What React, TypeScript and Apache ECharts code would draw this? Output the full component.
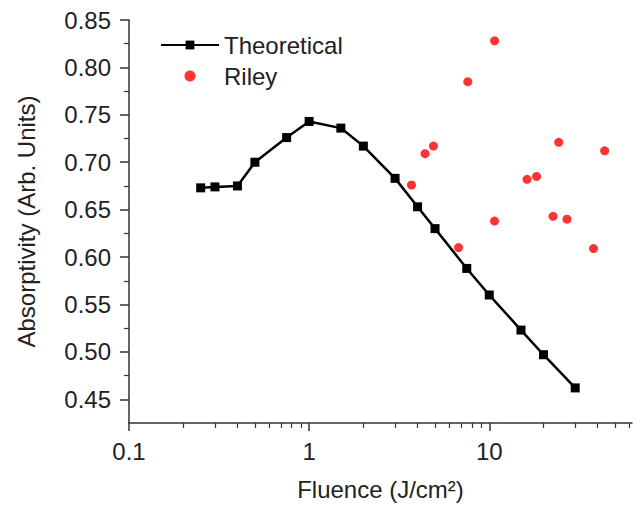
import React, { useEffect, useRef } from "react";
import * as echarts from "echarts";

const theoFluence = [0.25, 0.3, 0.4, 0.5, 0.75, 1, 1.5, 2, 3, 4, 5, 7.5, 10, 15, 20, 30];
const theoAbs = [0.673, 0.674, 0.675, 0.7, 0.726, 0.743, 0.736, 0.717, 0.683, 0.653, 0.63, 0.588, 0.56, 0.523, 0.497, 0.462];

const rileyFluence = [10.7, 7.6, 4.9, 4.4, 3.7, 24.3, 43.7, 16.2, 18.3, 10.7, 22.6, 27.0, 6.75, 37.9];
const rileyAbs = [0.828, 0.785, 0.717, 0.709, 0.676, 0.721, 0.712, 0.682, 0.685, 0.638, 0.643, 0.64, 0.61, 0.609];

const xMajorTicks = [0.1, 1, 10];
const xMinorTicks = [0.2, 0.3, 0.4, 0.5, 0.6, 0.7, 0.8, 0.9, 2, 3, 4, 5, 6, 7, 8, 9, 20, 30, 40, 50, 60];
const yMajorTicks = [0.45, 0.5, 0.55, 0.6, 0.65, 0.7, 0.75, 0.8, 0.85];
const yMinorTicks = [0.475, 0.525, 0.575, 0.625, 0.675, 0.725, 0.775, 0.825];

const FONT = "'Liberation Sans', Arial, sans-serif";
const AXIS_COLOR = "#333";
const TEXT_COLOR = "#222";
const FS = 24;

export default function App() {
  const ref = useRef<HTMLDivElement>(null);
  useEffect(() => {
    if (!ref.current) return;
    document.body.style.margin = "0";
    const chart = echarts.init(ref.current, null, { renderer: "svg" });
    const xMin = 0.1;
    const xMax = 62;
    const yMin = 0.425;
    const yMax = 0.85;
    chart.setOption({
      animation: false,
      backgroundColor: "#fff",
      textStyle: { fontFamily: FONT },
      grid: { left: 129, top: 20, right: 3, bottom: 85, containLabel: false },
      legend: {
        left: 160,
        top: 33,
        orient: "vertical",
        padding: 0,
        itemWidth: 58,
        itemHeight: 11,
        itemGap: 7,
        textStyle: { fontSize: FS, color: TEXT_COLOR, fontFamily: FONT },
        data: ["Theoretical", "Riley"],
      },
      xAxis: [
        {
          type: "log",
          logBase: 10,
          min: xMin,
          max: xMax,
          name: "Fluence (J/cm²)",
          nameLocation: "middle",
          nameGap: 54,
          nameTextStyle: { fontSize: FS, color: TEXT_COLOR, fontFamily: FONT },
          axisLine: { show: true, lineStyle: { color: AXIS_COLOR, width: 1.5 } },
          axisTick: { show: true, inside: false, length: 8, customValues: xMajorTicks, lineStyle: { color: AXIS_COLOR, width: 1.5 } },
          axisLabel: {
            customValues: xMajorTicks,
            margin: 16,
            fontSize: FS,
            color: TEXT_COLOR,
            fontFamily: FONT,
            formatter: (v: number) => String(Number(v.toPrecision(3))),
          },
          splitLine: { show: false },
        },
        {
          type: "log",
          logBase: 10,
          min: xMin,
          max: xMax,
          position: "bottom",
          axisLine: { show: false },
          axisTick: { show: true, inside: false, length: 5, customValues: xMinorTicks, lineStyle: { color: AXIS_COLOR, width: 1.2 } },
          axisLabel: { show: false },
          splitLine: { show: false },
        },
      ],
      yAxis: [
        {
          type: "value",
          min: yMin,
          max: yMax,
          name: "Absorptivity (Arb. Units)",
          nameLocation: "middle",
          nameGap: 91,
          nameTextStyle: { fontSize: FS, color: TEXT_COLOR, fontFamily: FONT },
          axisLine: { show: true, lineStyle: { color: AXIS_COLOR, width: 1.5 } },
          axisTick: { show: true, inside: false, length: 9, customValues: yMajorTicks, lineStyle: { color: AXIS_COLOR, width: 1.5 } },
          axisLabel: {
            customValues: yMajorTicks,
            margin: 18,
            fontSize: FS,
            color: TEXT_COLOR,
            fontFamily: FONT,
            formatter: (v: number) => v.toFixed(2),
          },
          splitLine: { show: false },
        },
        {
          type: "value",
          min: yMin,
          max: yMax,
          position: "left",
          axisLine: { show: false },
          axisTick: { show: true, inside: false, length: 5, customValues: yMinorTicks, lineStyle: { color: AXIS_COLOR, width: 1.2 } },
          axisLabel: { show: false },
          splitLine: { show: false },
        },
      ],
      series: [
        {
          name: "Theoretical",
          type: "line",
          xAxisIndex: 0,
          yAxisIndex: 0,
          data: theoFluence.map((x, i) => [x, theoAbs[i]]),
          symbol: "rect",
          symbolSize: 9,
          showAllSymbol: true,
          lineStyle: { color: "#000", width: 2.5 },
          itemStyle: { color: "#000" },
        },
        {
          name: "Riley",
          type: "scatter",
          xAxisIndex: 0,
          yAxisIndex: 0,
          data: rileyFluence.map((x, i) => [x, rileyAbs[i]]),
          symbol: "circle",
          symbolSize: 9,
          itemStyle: { color: "#ff0000" },
        },
      ],
    });
    return () => chart.dispose();
  }, []);
  return <div ref={ref} style={{ width: 635, height: 508 }} />;
}
